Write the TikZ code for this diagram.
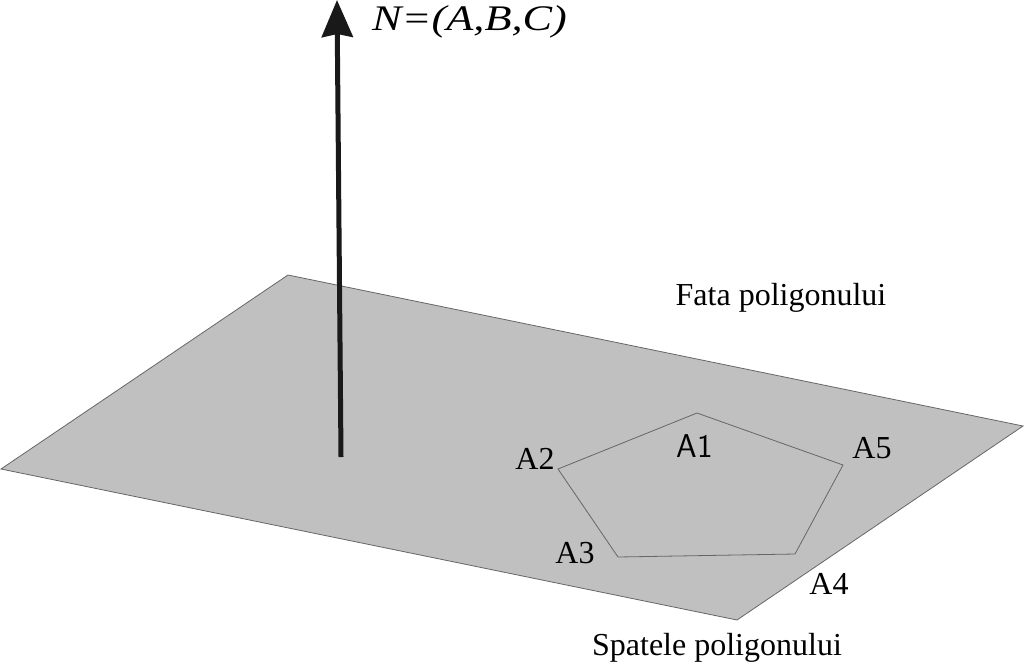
\documentclass[tikz,border=0pt]{standalone}
\usepackage{fontspec}
\setmainfont{Liberation Serif}
\usetikzlibrary{arrows.meta}
\definecolor{planegray}{RGB}{192,192,192}
\tikzset{
    lbl/.style={font=\fontsize{32pt}{36pt}\selectfont, inner sep=0pt},
    edge/.style={draw=black!60, line width=0.8pt}
}
\begin{document}
\begin{tikzpicture}[x=1pt, y=-1pt]
        \useasboundingbox (0,0) rectangle (1024,662);
        \filldraw [edge, fill=planegray] (288,275) -- (1023,426) -- (737,620) -- (1,469) -- cycle;
        % polygon
        \coordinate (a1) at (697,413);
        \coordinate (a2) at (558,469);
        \coordinate (a3) at (618,557);
        \coordinate (a4) at (795,554);
        \coordinate (a5) at (843,465);
        \draw [edge] (a1) -- (a2) -- (a3) -- (a4) -- (a5) -- cycle;
        % normal
        \coordinate (base) at (341,457);
        \coordinate (tip) at (337,0);
        \draw [black!90, line width=5pt, -{Stealth[length=37pt,width=31pt,inset=3pt]}] (base) to (tip);
        \node [lbl, anchor=base west, font=\fontsize{36pt}{40pt}\itshape\addfontfeature{FakeStretch=1.23}\selectfont] (normal) at (372,30) {N=(A,B,C)};
        \node [lbl] (fata) at (781,298) {Fata poligonului};
        \node [lbl] (spatele) at (717,648) {Spatele poligonului};
        \node [lbl, font=\fontsize{33pt}{36pt}\sffamily\selectfont] (l1) at (695,446) {A1};
        \node [lbl] (l2) at (535,459) {A2};
        \node [lbl] (l3) at (575,553) {A3};
        \node [lbl] (l4) at (829,584) {A4};
        \node [lbl] (l5) at (872,448) {A5};
    \end{tikzpicture}
\end{document}
